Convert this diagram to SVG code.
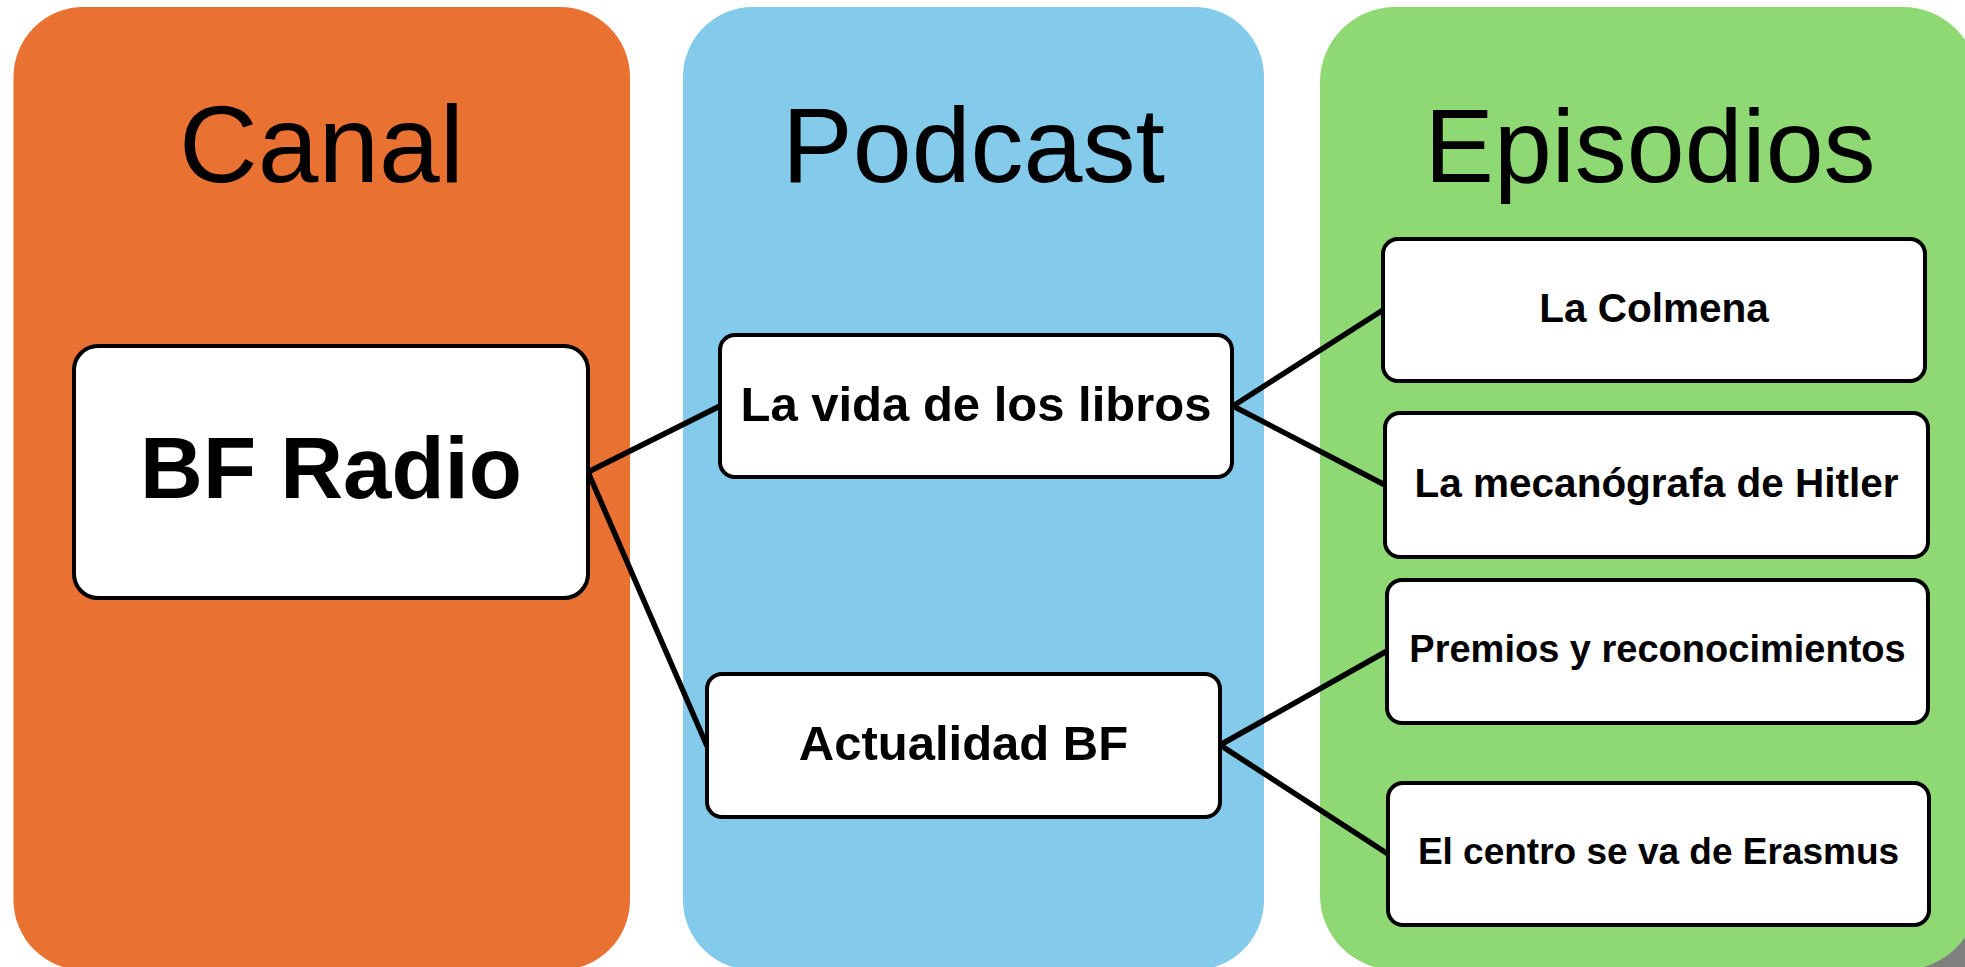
<svg xmlns="http://www.w3.org/2000/svg" width="1965" height="967" viewBox="0 0 1965 967">
  <style>
    .title { font-family: "Liberation Sans", Arial, sans-serif; font-size: 105px; fill: #000; text-anchor: middle; }
    .node rect { fill: #fff; stroke: #000; stroke-width: 4; }
    .lbl { font-family: "Liberation Sans", Arial, sans-serif; font-weight: bold; fill: #000; text-anchor: middle; }
    .big { font-size: 87px; }
    .mid { font-size: 49px; }
    .small { font-size: 39px; }
    .edge { stroke: #000; stroke-width: 5.5; fill: none; stroke-linecap: round; }
  </style>
  <rect x="0" y="0" width="1965" height="967" fill="#ffffff"/>
  <rect x="1880" y="880" width="85" height="87" fill="#7f7f7f"/>
  <g id="lane-canal">
    <rect x="13.5" y="7" width="616.5" height="963" rx="70" ry="70" fill="#E97132"/>
    <text class="title" x="321.5" y="182" style="font-size:109px">Canal</text>
  </g>
  <g id="lane-podcast">
    <rect x="683" y="7" width="581" height="963" rx="70" ry="70" fill="#83CAEB"/>
    <text class="title" x="973.5" y="182" style="font-size:106px">Podcast</text>
  </g>
  <g id="lane-episodios">
    <rect x="1320" y="7" width="658" height="963" rx="75" ry="75" fill="#8ED973"/>
    <text class="title" x="1650" y="182" style="font-size:104px">Episodios</text>
  </g>
  <g id="connectors">
    <line class="edge" x1="588" y1="472" x2="720" y2="406"/>
    <line class="edge" x1="588" y1="472" x2="707" y2="746"/>
    <line class="edge" x1="1233" y1="406" x2="1383" y2="310"/>
    <line class="edge" x1="1233" y1="406" x2="1385" y2="485"/>
    <line class="edge" x1="1220" y1="745" x2="1387" y2="651"/>
    <line class="edge" x1="1220" y1="745" x2="1388" y2="854"/>
  </g>
  <g id="node-bfradio" class="node">
    <rect x="74" y="346" width="514" height="252" rx="24" ry="24"/>
    <text class="lbl big" x="331" y="498">BF Radio</text>
  </g>
  <g id="node-vida" class="node">
    <rect x="720" y="335" width="512" height="142" rx="15" ry="15"/>
    <text class="lbl mid" x="976" y="421">La vida de los libros</text>
  </g>
  <g id="node-actualidad" class="node">
    <rect x="707" y="674" width="513" height="143" rx="15" ry="15"/>
    <text class="lbl mid" x="963.5" y="760">Actualidad BF</text>
  </g>
  <g id="node-colmena" class="node">
    <rect x="1383" y="239" width="542" height="142" rx="15" ry="15"/>
    <text class="lbl small" x="1654" y="322" style="font-size:40.5px">La Colmena</text>
  </g>
  <g id="node-mecanografa" class="node">
    <rect x="1385" y="413" width="543" height="144" rx="15" ry="15"/>
    <text class="lbl small" x="1656.5" y="497" style="font-size:40.5px">La mecanógrafa de Hitler</text>
  </g>
  <g id="node-premios" class="node">
    <rect x="1387" y="580" width="541" height="143" rx="15" ry="15"/>
    <text class="lbl small" x="1657.5" y="662" style="font-size:38px">Premios y reconocimientos</text>
  </g>
  <g id="node-erasmus" class="node">
    <rect x="1388" y="783" width="541" height="142" rx="15" ry="15"/>
    <text class="lbl small" x="1658.5" y="864" style="font-size:37px">El centro se va de Erasmus</text>
  </g>
</svg>
